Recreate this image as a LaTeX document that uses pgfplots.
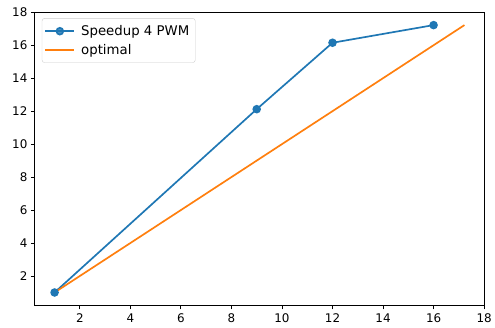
\documentclass[border=0pt]{standalone}
\usepackage{fontspec}
\setmainfont{DejaVu Sans}
\usepackage{pgfplots}
\pgfplotsset{compat=1.18}
\definecolor{C0}{HTML}{1F77B4}
\definecolor{C1}{HTML}{FF7F0E}
\begin{document}
\begin{tikzpicture}
\begin{axis}[
  scale only axis,
  width=451bp, height=294.4bp,
  xmin=0.22, xmax=18, ymin=0.21, ymax=18,
  xtick={2,4,...,18}, ytick={2,4,...,18},
  tick align=outside, tick pos=left,
  major tick length=4bp,
  every tick/.style={black, line width=0.9bp},
  axis line style={black, line width=0.9bp},
  /pgf/number format/assume math mode=true,
  ticklabel style={font=\fontsize{12}{14}\selectfont},
  xticklabel style={yshift=-0.5bp},
  legend style={at={(0.0155,0.9796)}, anchor=north west,
    font=\fontsize{13.4}{16}\selectfont, draw=black!20, rounded corners=2.5bp,
    fill=white, fill opacity=0.8, text opacity=1, inner xsep=2.5bp, inner ysep=3.5bp,
    row sep=0bp, column sep=2.5bp, nodes={inner xsep=3.5bp, inner ysep=3.5bp}},
  legend cell align=left,
  legend image code/.code={
    \draw[line width=1.8bp] (0bp,0bp) -- (29bp,0bp);
    \draw[mark options={fill=C0}] plot coordinates {(14.5bp,0bp)};},
]
\addplot[C0, line width=1.7bp, mark=*, mark size=3.4bp, mark options={fill=C0, draw=C0}]
  coordinates {(1,1) (9,12.12) (12,16.15) (16,17.22)};
\addlegendentry{Speedup 4 PWM}
\addplot[C1, line width=1.7bp] coordinates {(1,1) (17.22,17.22)};
\addlegendentry{optimal}
\end{axis}
\path ([xshift=-35bp,yshift=-22.3bp]current axis.south west) rectangle ([xshift=8.7bp,yshift=12.3bp]current axis.north east);
\end{tikzpicture}
\end{document}
